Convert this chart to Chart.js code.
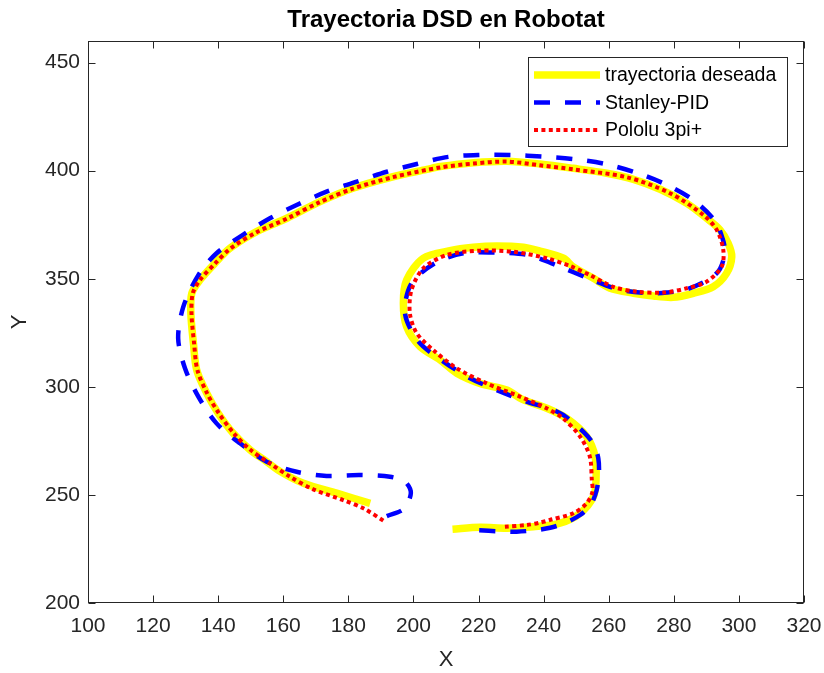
<!DOCTYPE html>
<html>
<head>
<meta charset="utf-8">
<script src="https://cdn.jsdelivr.net/npm/chart.js@4/dist/chart.umd.min.js"></script>
<style>
html,body{margin:0;padding:0;background:#ffffff;}
#wrap{width:824px;height:673px;}
</style>
</head>
<body>
<div id="wrap"><canvas id="c" width="824" height="673"></canvas></div>
<script>
// ---------- data ----------
const chartTitle = 'Trayectoria DSD en Robotat';
const xLabel = 'X';
const yLabel = 'Y';
const seriesNames = ['trayectoria deseada', 'Stanley-PID', 'Pololu 3pi+'];
const xTicks = [100,120,140,160,180,200,220,240,260,280,300,320];
const yTicks = [200,250,300,350,400,450];

const desiredX = [212.0,220.4,228.7,236.8,245.0,251.2,255.3,256.1,255.8,253.2,247.1,241.0,233.5,228.7,220.4,213.3,208.2,202.0,197.9,196.9,197.9,203.0,211.2,218.4,225.6,233.8,238.9,246.1,249.1,255.3,260.4,267.6,273.7,279.8,286.0,292.1,296.2,297.8,296.7,294.2,290.1,284.0,275.8,267.6,259.4,249.1,238.9,228.7,218.4,208.2,204.1,193.7,181.4,171.3,161.1,151.8,143.6,139.0,134.4,131.9,131.6,132.4,133.4,136.5,140.0,144.6,149.8,153.9,159.0,166.2,176.4,186.7];
const desiredY = [234.1,235.0,234.6,235.3,236.9,241.5,249.2,256.9,267.7,277.0,285.4,290.1,294.2,298.5,301.6,306.3,312.4,318.6,327.8,338.7,349.4,359.5,363.0,364.6,365.2,364.6,362.8,359.5,355.5,350.2,345.6,343.3,342.0,341.4,343.3,346.3,352.5,360.2,366.4,372.6,378.0,384.9,391.4,396.0,398.8,401.1,403.1,404.4,403.7,401.9,400.6,397.2,391.9,385.7,378.0,371.8,364.1,357.2,349.4,343.3,334.0,320.1,307.8,297.0,287.8,278.5,270.8,266.5,260.9,255.4,250.8,246.1];

const stanleyX = [220.2,226.0,231.7,237.0,242.0,246.5,251.2,254.5,256.3,257.0,256.8,255.5,252.7,246.0,241.0,235.8,225.6,217.4,209.2,201.5,197.4,199.4,206.6,215.3,225.6,235.3,245.0,253.7,262.9,272.1,277.8,284.0,291.1,294.2,295.7,295.0,292.7,286.0,277.3,268.4,258.9,249.6,239.9,230.2,220.4,210.7,201.0,191.8,182.6,173.3,164.1,155.9,147.6,139.5,133.9,129.3,127.7,129.8,133.9,139.5,146.7,154.9,164.1,173.3,183.6,192.8,197.5,199.2,197.0,191.8];
const stanleyY = [233.6,233.2,233.0,233.6,234.8,237.0,240.7,245.5,252.3,260.0,266.9,273.0,278.5,287.0,290.5,292.6,298.5,304.0,311.7,321.0,334.0,347.9,357.2,361.8,362.1,360.9,355.6,350.2,345.1,343.3,343.6,345.1,350.0,354.6,362.5,368.5,376.7,386.4,393.8,399.1,403.1,405.3,406.5,407.3,407.3,406.4,403.1,399.5,394.9,390.3,384.1,378.0,370.3,361.8,351.7,337.1,322.5,308.6,295.5,283.1,273.9,265.4,260.7,258.8,259.2,258.4,256.0,250.8,243.5,240.2];

const pololuX = [228.1,234.8,238.9,241.9,249.1,253.2,255.0,254.8,254.2,251.2,246.0,240.9,232.7,222.5,213.3,206.1,201.0,198.9,199.4,203.0,210.2,220.4,230.7,240.9,248.1,254.2,261.4,268.6,276.8,284.0,290.1,294.7,295.2,293.2,289.1,278.8,265.5,249.1,238.9,228.7,218.4,208.2,193.7,181.4,171.3,161.1,151.8,143.6,139.0,134.4,132.2,131.8,132.6,133.6,136.6,140.2,144.8,149.8,155.9,162.1,169.2,178.4,184.6,191.3];
const pololuY = [235.3,236.1,237.2,238.4,241.5,246.1,251.5,256.9,267.7,277.0,285.4,290.1,295.5,301.6,308.6,317.0,324.8,334.0,344.8,354.8,361.0,363.0,362.5,359.5,355.9,351.7,346.3,344.0,343.6,345.6,348.7,355.6,363.3,372.6,379.5,389.6,397.0,400.6,402.5,404.2,403.3,401.5,397.0,391.7,385.5,377.8,371.5,363.8,357.0,349.4,343.3,334.0,320.1,307.8,297.0,287.8,278.5,271.0,264.6,258.4,252.6,247.6,243.8,237.6];

// ---------- build ----------
const toPts = (xs, ys) => xs.map((x, i) => ({x: x, y: ys[i]}));
const FONT = "'Liberation Sans', Arial, Helvetica, sans-serif";
const AXIS_COLOR = '#262626';

const titleOverAxes = {
  id: 'titleOverAxes',
  afterLayout(chart) {
    const tb = chart.titleBlock;
    if (tb) {
      tb.left = chart.chartArea.left;
      tb.right = chart.chartArea.right;
      tb.width = tb.right - tb.left;
    }
  }
};

const axesBox = {
  id: 'axesBox',
  afterDraw(chart) {
    const ctx = chart.ctx;
    const a = chart.chartArea;
    const xs = chart.scales.x, ys = chart.scales.y;
    const L = Math.round(a.left) + 0.5, R = Math.round(a.right) - 0.5;
    const T = Math.round(a.top) + 0.5, B = Math.round(a.bottom) - 0.5;
    const tl = 7;
    ctx.save();
    ctx.strokeStyle = AXIS_COLOR;
    ctx.lineWidth = 1;
    ctx.beginPath();
    xs.ticks.forEach(t => {
      const p = Math.round(xs.getPixelForValue(t.value)) + 0.5;
      ctx.moveTo(p, B); ctx.lineTo(p, B - tl);
      ctx.moveTo(p, T); ctx.lineTo(p, T + tl);
    });
    ys.ticks.forEach(t => {
      const p = Math.round(ys.getPixelForValue(t.value)) + 0.5;
      ctx.moveTo(L, p); ctx.lineTo(L + tl, p);
      ctx.moveTo(R, p); ctx.lineTo(R - tl, p);
    });
    ctx.stroke();
    ctx.strokeRect(L, T, R - L, B - T);
    ctx.restore();
  }
};

const insideLegend = {
  id: 'insideLegend',
  afterDraw(chart) {
    const ctx = chart.ctx;
    const a = chart.chartArea;
    const boxR = a.right - 17, boxT = a.top + 16;
    const boxW = 259, rowH = 27.5, boxH = 89;
    const boxL = boxR - boxW;
    ctx.save();
    ctx.fillStyle = '#ffffff';
    ctx.fillRect(boxL, boxT, boxW, boxH);
    ctx.strokeStyle = AXIS_COLOR;
    ctx.lineWidth = 1;
    ctx.strokeRect(Math.round(boxL) + 0.5, Math.round(boxT) + 0.5, Math.round(boxW), Math.round(boxH));
    ctx.font = '19.5px ' + FONT;
    ctx.textBaseline = 'middle';
    ctx.textAlign = 'left';
    chart.data.datasets.forEach((ds, i) => {
      const cy = boxT + 18 + i * rowH;
      ctx.save();
      ctx.strokeStyle = ds.borderColor;
      ctx.lineWidth = ds.borderWidth;
      ctx.setLineDash(ds.borderDash || []);
      ctx.lineCap = 'butt';
      ctx.beginPath();
      ctx.moveTo(boxL + 6, cy);
      ctx.lineTo(boxL + 72, cy);
      ctx.stroke();
      ctx.restore();
      ctx.fillStyle = '#000000';
      ctx.fillText(ds.label, boxL + 77, cy + 1);
    });
    ctx.restore();
  }
};

Chart.defaults.font.family = FONT;

new Chart(document.getElementById('c').getContext('2d'), {
  type: 'scatter',
  data: {
    datasets: [
      { label: seriesNames[0], data: toPts(desiredX, desiredY), showLine: true, order: 3,
        borderColor: '#ffff00', backgroundColor: '#ffff00', borderWidth: 7.5,
        pointRadius: 0, tension: 0.3, borderJoinStyle: 'round', borderCapStyle: 'butt' },
      { label: seriesNames[1], data: toPts(stanleyX, stanleyY), showLine: true, order: 2,
        borderColor: '#0000ff', backgroundColor: '#0000ff', borderWidth: 4.5, borderDash: [16, 15],
        pointRadius: 0, tension: 0.3, borderCapStyle: 'butt' },
      { label: seriesNames[2], data: toPts(pololuX, pololuY), showLine: true, order: 1,
        borderColor: '#ff0000', backgroundColor: '#ff0000', borderWidth: 4, borderDash: [4, 3.4],
        pointRadius: 0, tension: 0.3, borderCapStyle: 'butt' }
    ]
  },
  options: {
    responsive: false,
    animation: false,
    devicePixelRatio: 1,
    events: [],
    layout: { padding: { left: 0, right: 20, top: 0, bottom: 0 } },
    plugins: {
      legend: { display: false },
      tooltip: { enabled: false },
      title: {
        display: true, text: chartTitle, fullSize: false, color: '#000000',
        font: { family: FONT, size: 24, weight: 'bold', lineHeight: 1.2 },
        padding: { top: 6, bottom: 6.2 }
      }
    },
    scales: {
      x: {
        type: 'linear', position: 'bottom', min: 100, max: 320,
        grid: { display: false, drawTicks: true, tickLength: 9 }, border: { display: false },
        afterBuildTicks(s) { s.ticks = xTicks.map(v => ({ value: v })); },
        afterFit(s) { s.height = 70; },
        ticks: { color: AXIS_COLOR, font: { size: 21, lineHeight: 1.2 }, padding: 2, maxRotation: 0, autoSkip: false },
        title: { display: true, text: xLabel, color: AXIS_COLOR, font: { size: 22, lineHeight: 1.2 }, padding: { top: 0, bottom: 0 } }
      },
      y: {
        type: 'linear', position: 'left', min: 200, max: 460,
        grid: { display: false, drawTicks: false, tickLength: 0 }, border: { display: false },
        afterBuildTicks(s) { s.ticks = yTicks.map(v => ({ value: v })); },
        afterFit(s) { s.width = 88; },
        ticks: { color: AXIS_COLOR, font: { size: 21, lineHeight: 1.2 }, padding: 8, autoSkip: false },
        title: { display: true, text: yLabel, color: AXIS_COLOR, font: { size: 22, lineHeight: 1.2 }, padding: { top: 7, bottom: 0 } }
      }
    }
  },
  plugins: [titleOverAxes, axesBox, insideLegend]
});
</script>
</body>
</html>
